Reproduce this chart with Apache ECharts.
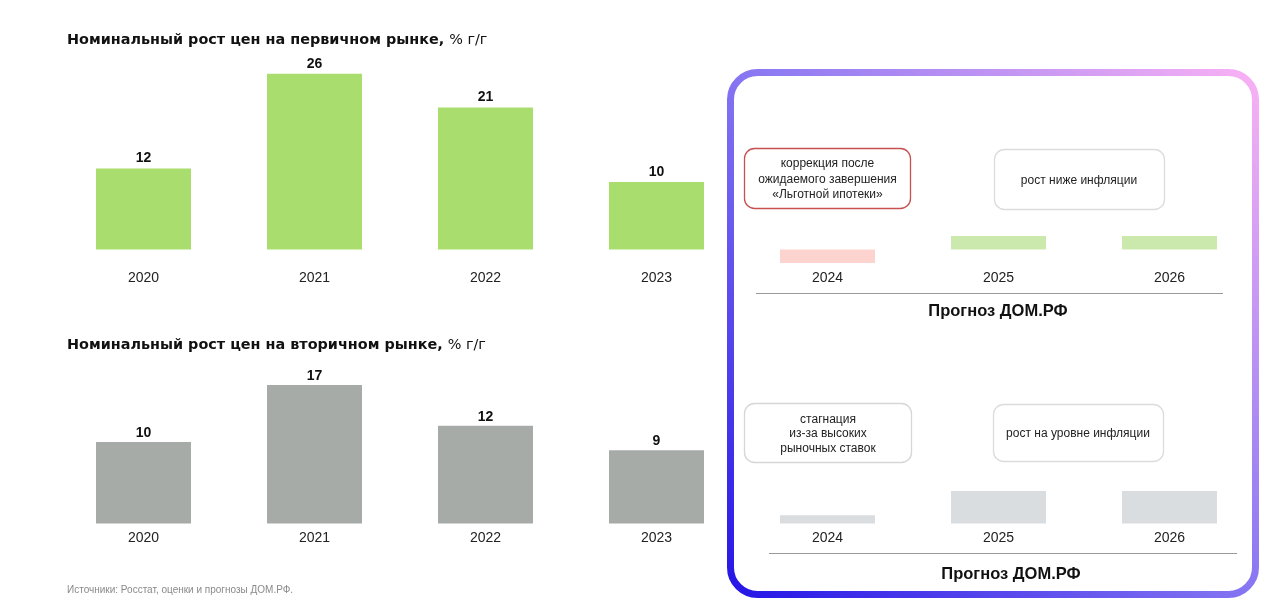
<!DOCTYPE html>
<html>
<head>
<meta charset="utf-8">
<script src="https://cdn.jsdelivr.net/npm/echarts@6/dist/echarts.min.js"></script>
<style>
html,body{margin:0;padding:0;background:#fff;}
#c{width:1280px;height:607px;}
</style>
</head>
<body>
<div id="c"></div>
<script>
var years = ['2020','2021','2022','2023','2024','2025','2026'];
var primaryValues = [12, 26, 21, 10, -2, 2, 2];
var secondaryValues = [10, 17, 12, 9, 1, 4, 4];
var forecastYears = ['2024','2025','2026'];

var titlePrimary = 'Номинальный рост цен на первичном рынке,';
var titleSecondary = 'Номинальный рост цен на вторичном рынке,';
var unitText = '% г/г';
var forecastLabel = 'Прогноз ДОМ.РФ';
var sourceText = 'Источники: Росстат, оценки и прогнозы ДОМ.РФ.';
var notePrimary1 = 'коррекция после\nожидаемого завершения\n«Льготной ипотеки»';
var notePrimary2 = 'рост ниже инфляции';
var noteSecondary1 = 'стагнация\nиз-за высоких\nрыночных ставок';
var noteSecondary2 = 'рост на уровне инфляции';

var FONT = '"Liberation Sans", Arial, sans-serif';
var TFONT = '"DejaVu Sans", Verdana, sans-serif';

function colorsFor(row, i, v) {
  var isForecast = forecastYears.indexOf(years[i]) >= 0;
  if (row === 0) {
    if (!isForecast) return '#a9dd6e';
    return v < 0 ? '#fdd3cf' : '#cbe8ad';
  }
  return isForecast ? '#d9dde0' : '#a6aba8';
}

function makeData(row, vals) {
  return vals.map(function (v, i) {
    var isForecast = forecastYears.indexOf(years[i]) >= 0;
    return {
      value: v,
      itemStyle: { color: colorsFor(row, i, v) },
      label: { show: !isForecast }
    };
  });
}

var chart = echarts.init(document.getElementById('c'), null, { renderer: 'canvas' });

var gradStroke = {
  type: 'linear', x: 0, y: 1, x2: 1, y2: 0,
  colorStops: [
    { offset: 0, color: '#2414e6' },
    { offset: 0.5, color: '#8676f2' },
    { offset: 1, color: '#fbb2f4' }
  ]
};

function noteBox(x, y, w, h, stroke, text, cx, cy, lh) {
  return [
    { type: 'rect', shape: { x: x, y: y, width: w, height: h, r: 10 },
      style: { fill: '#fff', stroke: stroke, lineWidth: 1.3 } },
    { type: 'text', x: cx, y: cy,
      style: { text: text, fill: '#222', font: '12px ' + FONT, align: 'center', verticalAlign: 'middle', lineHeight: lh } }
  ];
}

var graphics = [
  { type: 'rect', shape: { x: 730.5, y: 72.5, width: 525, height: 522, r: 27 },
    style: { fill: 'none', stroke: gradStroke, lineWidth: 7 } },
  { type: 'line', shape: { x1: 756, y1: 293.5, x2: 1223, y2: 293.5 }, style: { stroke: '#9a9a9a', lineWidth: 1 } },
  { type: 'line', shape: { x1: 769, y1: 553.5, x2: 1237, y2: 553.5 }, style: { stroke: '#9a9a9a', lineWidth: 1 } },
  { type: 'text', x: 998, y: 311, style: { text: forecastLabel, fill: '#111', font: 'bold 16.5px ' + FONT, align: 'center', verticalAlign: 'middle' } },
  { type: 'text', x: 1011, y: 574, style: { text: forecastLabel, fill: '#111', font: 'bold 16.5px ' + FONT, align: 'center', verticalAlign: 'middle' } },
  { type: 'text', x: 67, y: 590, style: { text: sourceText, fill: '#8a8a8a', font: '10px ' + FONT, align: 'left', verticalAlign: 'middle' } }
]
.concat(noteBox(744.5, 148.5, 166, 60, '#c85050', notePrimary1, 827.5, 179.5, 15.5))
.concat(noteBox(994.5, 149.5, 170, 60, '#dcdcdc', notePrimary2, 1079, 180.5, 15))
.concat(noteBox(744.5, 403.5, 167, 59, '#d6d6d6', noteSecondary1, 828, 434, 14.5))
.concat(noteBox(993.5, 404.5, 170, 57, '#dcdcdc', noteSecondary2, 1078, 434, 15));

function titleOpt(text, top) {
  return {
    left: 67, top: top, padding: 0,
    text: '{b|' + text + '} {r|' + unitText + '}',
    textStyle: {
      rich: {
        b: { fontFamily: TFONT, fontWeight: 'bold', fontSize: 14.4, color: '#111' },
        r: { fontFamily: TFONT, fontWeight: 'normal', fontSize: 14.4, color: '#111' }
      }
    }
  };
}

var xAxisCommon = {
  type: 'category',
  data: years,
  axisLine: { show: false, onZero: false },
  axisTick: { show: false },
  axisLabel: { color: '#222', fontFamily: FONT, fontSize: 14 }
};

chart.setOption({
  animation: false,
  backgroundColor: '#fff',
  title: [titleOpt(titlePrimary, 31), titleOpt(titleSecondary, 336)],
  grid: [
    { left: 58, width: 1197, top: 60.3, height: 202.7 },
    { left: 58, width: 1197, top: 360.5, height: 167.1 }
  ],
  xAxis: [
    Object.assign({}, xAxisCommon, { gridIndex: 0, axisLabel: Object.assign({}, xAxisCommon.axisLabel, { margin: 8 }) }),
    Object.assign({}, xAxisCommon, { gridIndex: 1, axisLabel: Object.assign({}, xAxisCommon.axisLabel, { margin: 4 }) })
  ],
  yAxis: [
    { type: 'value', gridIndex: 0, min: -2, max: 28, show: false, splitLine: { show: false } },
    { type: 'value', gridIndex: 1, min: -0.5, max: 20, show: false, splitLine: { show: false } }
  ],
  series: [
    { type: 'bar', xAxisIndex: 0, yAxisIndex: 0, barWidth: 95,
      data: makeData(0, primaryValues),
      label: { position: 'top', distance: 3, color: '#111', fontFamily: FONT, fontWeight: 'bold', fontSize: 14 } },
    { type: 'bar', xAxisIndex: 1, yAxisIndex: 1, barWidth: 95,
      data: makeData(1, secondaryValues),
      label: { position: 'top', distance: 2, color: '#111', fontFamily: FONT, fontWeight: 'bold', fontSize: 14 } }
  ],
  graphic: graphics
});
</script>
</body>
</html>
